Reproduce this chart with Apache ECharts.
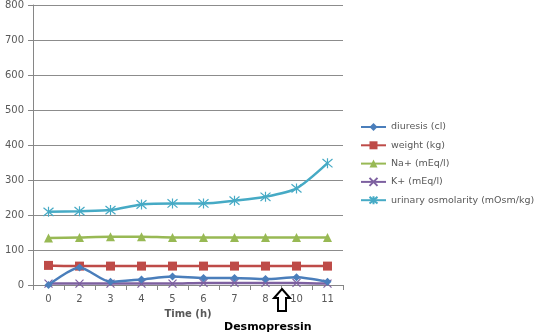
<!DOCTYPE html>
<html><head><meta charset="utf-8">
<script src="https://cdn.jsdelivr.net/npm/echarts@6/dist/echarts.min.js"></script>
<style>html,body{margin:0;padding:0;background:#fff}#c{width:538px;height:336px}</style>
</head><body><div id="c"></div>
<script>
const categories = ['0','2','3','4','5','6','7','8','10','11'];
const diuresis = [0, 50, 9, 16, 24, 20, 20, 17, 22, 9];
const weight = [56, 54, 54, 54, 54, 54, 54, 54, 54, 54];
const sodium = [134, 136, 138, 138, 136, 136, 136, 136, 136, 136];
const potassium = [4, 4, 4, 4, 4, 6, 6, 6, 6, 4];
const osmolarity = [209, 211, 214, 230, 233, 233, 241, 252, 276, 348];
const yTicks = {min: 0, max: 800, interval: 100};

const names = ['diuresis (cl)','weight (kg)','Na+ (mEq/l)','K+ (mEq/l)','urinary osmolarity (mOsm/kg)'];
const colors = ['#4a7ebb','#be4b48','#98b954','#7d60a0','#46aac5'];
const symbols = ['diamond','rect','triangle','path://M0,0 L10,10 M10,0 L0,10','path://M0,0 L10,10 M10,0 L0,10 M5,-1 L5,11'];
const sizes = [8,9,9,8,10];
const datas = [diuresis, weight, sodium, potassium, osmolarity];

const chart = echarts.init(document.getElementById('c'));
const series = names.map((n,i)=>({
  name:n, type:'line', data:datas[i], smooth:0.25,
  symbol:symbols[i], symbolSize:sizes[i], showSymbol:true,
  lineStyle:{color:colors[i], width:2.5},
  itemStyle:{color:colors[i], borderColor:colors[i], borderWidth: i>=3?1.2:0},
  z: 10 - i
}));
chart.setOption({
  animation:false,
  textStyle:{fontFamily:'DejaVu Sans'},
  grid:{left:33, right:195, top:5, bottom:51},
  legend:{
    orient:'vertical', left:360, top:122, padding:0, itemGap:8.3, itemWidth:25, itemHeight:10,
    textStyle:{fontSize:9.5, color:'#595959', fontFamily:'DejaVu Sans'},
    data:names
  },
  xAxis:{
    type:'category', data:categories, boundaryGap:true,
    name:'Time (h)', nameLocation:'middle', nameGap:24,
    nameTextStyle:{fontSize:10, fontWeight:'bold', color:'#595959'},
    axisLine:{lineStyle:{color:'#868686', width:1}},
    axisTick:{show:true, length:5, lineStyle:{color:'#868686'}},
    axisLabel:{fontSize:10, color:'#595959', margin:9}
  },
  yAxis:{
    type:'value', min:yTicks.min, max:yTicks.max, interval:yTicks.interval,
    axisLine:{show:true, lineStyle:{color:'#868686'}},
    axisTick:{show:true, length:5, lineStyle:{color:'#868686'}},
    axisLabel:{fontSize:10, color:'#595959', margin:9},
    splitLine:{lineStyle:{color:'#8c8c8c', width:1}}
  },
  graphic:[
    {type:'polygon', shape:{points:[[282,289],[290,298],[286,298],[286,311],[278,311],[278,298],[274,298]]},
     style:{fill:'#fff', stroke:'#000', lineWidth:2}, z:100},
    {type:'text', left:224, top:322, style:{text:'Desmopressin', font:'bold 11px "DejaVu Sans"', fill:'#000'}}
  ],
  series
});
</script></body></html>
